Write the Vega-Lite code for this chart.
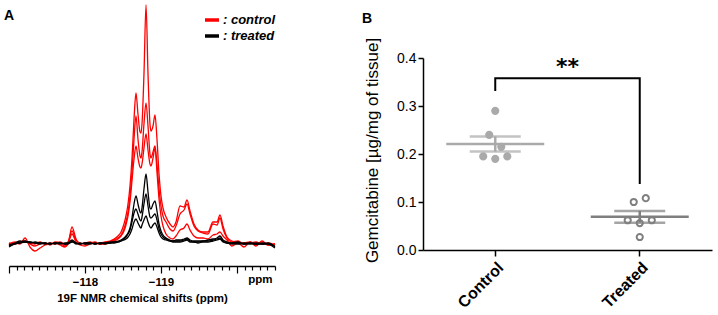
{
  "$schema": "https://vega.github.io/schema/vega-lite/v6.json",
  "padding": {"left": 4, "top": 2, "right": 2, "bottom": 0},
  "config": {"font": "Liberation Sans", "view": {"stroke": null}, "axis": {"grid": false}},
  "spacing": 84,
  "resolve": {"scale": {"color": "independent"}, "legend": {"color": "independent"}},
  "hconcat": [
    {
      "width": 266,
      "height": 208,
      "title": {"text": "A", "anchor": "start", "frame": "group", "fontSize": 14, "fontWeight": "bold", "offset": 0, "dx": -5, "dy": 21},
      "data": {"values": [
        {"p":-117.000,"r1":1,"r2":0,"r3":-1,"b1":-1,"b2":-2,"b3":-3},
        {"p":-117.079,"r1":0,"r2":2,"r3":1,"b1":1,"b2":0,"b3":0},
        {"p":-117.145,"r1":2,"r2":1,"r3":0,"b1":3,"b2":2,"b3":1},
        {"p":-117.211,"r1":3,"r2":2,"r3":6,"b1":2,"b2":3,"b3":2},
        {"p":-117.276,"r1":0,"r2":1,"r3":-3,"b1":2,"b2":1,"b3":2},
        {"p":-117.342,"r1":-2,"r2":0,"r3":-7,"b1":1,"b2":2,"b3":1},
        {"p":-117.408,"r1":0,"r2":2,"r3":-4,"b1":0,"b2":1,"b3":1},
        {"p":-117.474,"r1":1,"r2":0,"r3":-1,"b1":1,"b2":0,"b3":1},
        {"p":-117.539,"r1":-1,"r2":1,"r3":0,"b1":0,"b2":1,"b3":0},
        {"p":-117.605,"r1":2,"r2":0,"r3":1,"b1":1,"b2":0,"b3":1},
        {"p":-117.671,"r1":1,"r2":2,"r3":-1,"b1":0,"b2":1,"b3":1},
        {"p":-117.737,"r1":-2,"r2":0,"r3":-3,"b1":1,"b2":0,"b3":0},
        {"p":-117.776,"r1":0,"r2":2,"r3":0,"b1":1,"b2":1,"b3":0},
        {"p":-117.829,"r1":17,"r2":13,"r3":10,"b1":4,"b2":3,"b3":2},
        {"p":-117.882,"r1":5,"r2":4,"r3":2,"b1":1,"b2":0,"b3":1},
        {"p":-117.934,"r1":0,"r2":1,"r3":-1,"b1":0,"b2":1,"b3":0},
        {"p":-118.000,"r1":1,"r2":0,"r3":-2,"b1":1,"b2":0,"b3":1},
        {"p":-118.066,"r1":2,"r2":1,"r3":0,"b1":1,"b2":0,"b3":1},
        {"p":-118.132,"r1":0,"r2":2,"r3":1,"b1":0,"b2":1,"b3":0},
        {"p":-118.197,"r1":1,"r2":0,"r3":0,"b1":1,"b2":0,"b3":1},
        {"p":-118.263,"r1":2,"r2":1,"r3":0,"b1":1,"b2":1,"b3":0},
        {"p":-118.329,"r1":3,"r2":2,"r3":1,"b1":2,"b2":1,"b3":1},
        {"p":-118.382,"r1":5,"r2":4,"r3":3,"b1":2,"b2":2,"b3":1},
        {"p":-118.434,"r1":8,"r2":6,"r3":5,"b1":3,"b2":2,"b3":2},
        {"p":-118.474,"r1":12,"r2":9,"r3":8,"b1":4,"b2":3,"b3":3},
        {"p":-118.513,"r1":20,"r2":15,"r3":13,"b1":6,"b2":5,"b3":4},
        {"p":-118.539,"r1":28,"r2":22,"r3":19,"b1":8,"b2":7,"b3":5},
        {"p":-118.566,"r1":40,"r2":32,"r3":28,"b1":11,"b2":10,"b3":7},
        {"p":-118.592,"r1":58,"r2":48,"r3":42,"b1":16,"b2":14,"b3":10},
        {"p":-118.618,"r1":85,"r2":72,"r3":63,"b1":26,"b2":22,"b3":15},
        {"p":-118.645,"r1":125,"r2":105,"r3":85,"b1":40,"b2":31,"b3":22},
        {"p":-118.671,"r1":151,"r2":128,"r3":98,"b1":48,"b2":35,"b3":25},
        {"p":-118.697,"r1":130,"r2":105,"r3":86,"b1":40,"b2":30,"b3":21},
        {"p":-118.724,"r1":112,"r2":88,"r3":77,"b1":32,"b2":24,"b3":17},
        {"p":-118.737,"r1":111,"r2":86,"r3":76,"b1":31,"b2":23,"b3":16},
        {"p":-118.750,"r1":120,"r2":92,"r3":80,"b1":36,"b2":27,"b3":19},
        {"p":-118.776,"r1":170,"r2":120,"r3":96,"b1":55,"b2":40,"b3":24},
        {"p":-118.803,"r1":239,"r2":141,"r3":110,"b1":70,"b2":50,"b3":28},
        {"p":-118.829,"r1":170,"r2":118,"r3":94,"b1":52,"b2":38,"b3":22},
        {"p":-118.855,"r1":120,"r2":90,"r3":80,"b1":36,"b2":27,"b3":17},
        {"p":-118.868,"r1":113,"r2":86,"r3":78,"b1":35,"b2":26,"b3":16},
        {"p":-118.895,"r1":118,"r2":92,"r3":86,"b1":40,"b2":28,"b3":19},
        {"p":-118.921,"r1":129,"r2":98,"r3":96,"b1":43,"b2":30,"b3":21},
        {"p":-118.947,"r1":105,"r2":80,"r3":72,"b1":33,"b2":24,"b3":17},
        {"p":-118.974,"r1":70,"r2":55,"r3":45,"b1":20,"b2":15,"b3":11},
        {"p":-119.000,"r1":48,"r2":38,"r3":28,"b1":13,"b2":10,"b3":7},
        {"p":-119.026,"r1":36,"r2":28,"r3":18,"b1":9,"b2":7,"b3":5},
        {"p":-119.066,"r1":27,"r2":22,"r3":10,"b1":6,"b2":5,"b3":4},
        {"p":-119.118,"r1":20,"r2":15,"r3":6,"b1":4,"b2":3,"b3":3},
        {"p":-119.158,"r1":17,"r2":13,"r3":5,"b1":3,"b2":3,"b3":2},
        {"p":-119.197,"r1":22,"r2":18,"r3":8,"b1":4,"b2":3,"b3":2},
        {"p":-119.250,"r1":38,"r2":30,"r3":14,"b1":4,"b2":3,"b3":2},
        {"p":-119.303,"r1":37,"r2":34,"r3":16,"b1":5,"b2":4,"b3":3},
        {"p":-119.342,"r1":44,"r2":40,"r3":20,"b1":6,"b2":5,"b3":4},
        {"p":-119.382,"r1":33,"r2":30,"r3":14,"b1":4,"b2":3,"b3":2},
        {"p":-119.434,"r1":20,"r2":18,"r3":8,"b1":3,"b2":2,"b3":2},
        {"p":-119.487,"r1":14,"r2":13,"r3":6,"b1":3,"b2":2,"b3":1},
        {"p":-119.553,"r1":12,"r2":11,"r3":6,"b1":3,"b2":3,"b3":2},
        {"p":-119.618,"r1":12,"r2":10,"r3":5,"b1":4,"b2":3,"b3":2},
        {"p":-119.684,"r1":22,"r2":20,"r3":9,"b1":5,"b2":4,"b3":3},
        {"p":-119.737,"r1":22,"r2":19,"r3":10,"b1":6,"b2":5,"b3":4},
        {"p":-119.776,"r1":29,"r2":26,"r3":12,"b1":8,"b2":6,"b3":5},
        {"p":-119.816,"r1":18,"r2":15,"r3":8,"b1":4,"b2":3,"b3":2},
        {"p":-119.868,"r1":7,"r2":6,"r3":4,"b1":2,"b2":1,"b3":1},
        {"p":-119.934,"r1":3,"r2":2,"r3":-2,"b1":1,"b2":1,"b3":0},
        {"p":-120.013,"r1":2,"r2":3,"r3":1,"b1":2,"b2":0,"b3":1},
        {"p":-120.092,"r1":1,"r2":0,"r3":-3,"b1":0,"b2":1,"b3":0},
        {"p":-120.171,"r1":2,"r2":1,"r3":2,"b1":1,"b2":0,"b3":1},
        {"p":-120.250,"r1":0,"r2":2,"r3":-2,"b1":0,"b2":1,"b3":0},
        {"p":-120.329,"r1":1,"r2":0,"r3":3,"b1":1,"b2":0,"b3":0},
        {"p":-120.408,"r1":-1,"r2":1,"r3":-1,"b1":0,"b2":1,"b3":0},
        {"p":-120.500,"r1":0,"r2":-1,"r3":0,"b1":-4,"b2":-3,"b3":-2}
      ]},
      "transform": [
        {"fold": ["r1", "r2", "r3", "b1", "b2", "b3"], "as": ["curve", "intensity"]},
        {"lookup": "curve", "from": {"data": {"values": [
          {"curve": "r1", "sample": ": control"},
          {"curve": "r2", "sample": ": control"},
          {"curve": "r3", "sample": ": control"},
          {"curve": "b1", "sample": ": treated"},
          {"curve": "b2", "sample": ": treated"},
          {"curve": "b3", "sample": ": treated"}
        ]}, "key": "curve", "fields": ["sample"]}}
      ],
      "mark": {"type": "line", "interpolate": "monotone", "strokeWidth": 1.3},
      "encoding": {
        "x": {
          "field": "p", "type": "quantitative",
          "scale": {"domain": [-117, -120.5], "nice": false, "zero": false},
          "axis": {
            "values": [-117,-117.1,-117.2,-117.3,-117.4,-117.5,-117.6,-117.7,-117.8,-117.9,-118,-118.1,-118.2,-118.3,-118.4,-118.5,-118.6,-118.7,-118.8,-118.9,-119,-119.1,-119.2,-119.3,-119.4,-119.5,-119.6,-119.7,-119.8,-119.9,-120,-120.1,-120.2,-120.3,-120.4,-120.5],
            "labelExpr": "abs(datum.value + 118) < 0.01 ? '\u2212118' : abs(datum.value + 119) < 0.01 ? '\u2212119' : abs(datum.value + 120.3) < 0.01 ? 'ppm' : ''",
            "tickSize": {"condition": {"test": "abs(datum.value - round(datum.value)) < 0.01", "value": 7}, "value": 4},
            "labelFontSize": 11.5, "labelFontWeight": "bold", "labelColor": "black",
            "labelOverlap": false, "labelFlush": false, "labelPadding": 3,
            "title": "19F NMR chemical shifts (ppm)", "titleFontSize": 11.5, "titleFontWeight": "bold", "titleColor": "black", "titlePadding": 5,
            "domainColor": "black", "domainWidth": 1.5, "tickColor": "black", "tickWidth": 1.2
          }
        },
        "y": {"field": "intensity", "type": "quantitative", "scale": {"domain": [-22, 186], "nice": false, "zero": false}, "axis": null},
        "color": {
          "field": "sample", "type": "nominal",
          "scale": {"domain": [": control", ": treated"], "range": ["#ff0000", "#000000"]},
          "legend": {"orient": "none", "legendX": 194, "legendY": -47, "title": null, "symbolType": "stroke", "symbolStrokeWidth": 3.5, "symbolSize": 196, "labelFontSize": 13, "labelFontWeight": "bold", "labelFontStyle": "italic", "labelColor": "black", "labelOffset": 2, "rowPadding": -2, "padding": 0}
        },
        "detail": {"field": "curve"}
      }
    },
    {
      "width": 289,
      "height": 192,
      "title": {"text": "B", "anchor": "start", "frame": "group", "fontSize": 14, "fontWeight": "bold", "offset": 11, "dx": -61},
      "layer": [
        {
          "data": {"values": [
            {"group": "Control", "value": 0.29, "slot": 0},
            {"group": "Control", "value": 0.24, "slot": -1},
            {"group": "Control", "value": 0.215, "slot": 1},
            {"group": "Control", "value": 0.195, "slot": -2},
            {"group": "Control", "value": 0.19, "slot": 0},
            {"group": "Control", "value": 0.195, "slot": 2},
            {"group": "Treated", "value": 0.1, "slot": -1},
            {"group": "Treated", "value": 0.108, "slot": 1},
            {"group": "Treated", "value": 0.062, "slot": -2},
            {"group": "Treated", "value": 0.056, "slot": 0},
            {"group": "Treated", "value": 0.062, "slot": 2},
            {"group": "Treated", "value": 0.027, "slot": 0}
          ]},
          "layer": [
            {
              "mark": {"type": "tick", "thickness": 2.5, "size": 98},
              "encoding": {
                "x": {"field": "group", "type": "nominal", "scale": {"type": "band", "domain": ["Control", "Treated"], "paddingInner": 0, "paddingOuter": 0},
                  "axis": {"title": null, "labelAngle": -45, "labelFontSize": 16, "labelFontWeight": "bold", "labelColor": "black", "domainColor": "black", "domainWidth": 1.5, "tickColor": "black", "tickWidth": 1.5, "tickSize": 6, "labelPadding": 3}},
                "y": {"aggregate": "mean", "field": "value", "type": "quantitative", "title": "Gemcitabine [\u00b5g/mg of tissue]", "scale": {"domain": [0, 0.4], "nice": false},
                  "axis": {"values": [0, 0.1, 0.2, 0.3, 0.4], "format": ".1f", "titleFontSize": 17, "titleFontWeight": "normal", "titleColor": "black", "titlePadding": 15, "titleY": 92, "labelFontSize": 14, "labelColor": "black", "domainColor": "black", "domainWidth": 1.5, "tickColor": "black", "tickWidth": 1.5, "tickSize": 5, "labelPadding": 2}},
                "color": {"field": "group", "type": "nominal", "scale": {"domain": ["Control", "Treated"], "range": ["#aaaaaa", "#7f7f7f"]}, "legend": null}
              }
            },
            {
              "mark": {"type": "errorbar", "extent": "stderr", "ticks": {"size": 51, "thickness": 2.5}, "rule": {"strokeWidth": 2.5}},
              "encoding": {
                "x": {"field": "group", "type": "nominal"},
                "y": {"field": "value", "type": "quantitative", "title": "Gemcitabine [\u00b5g/mg of tissue]"},
                "color": {"field": "group", "type": "nominal", "legend": null}
              }
            },
            {
              "mark": {"type": "circle", "size": 38, "strokeWidth": 2, "opacity": 1},
              "encoding": {
                "x": {"field": "group", "type": "nominal"},
                "xOffset": {"field": "slot", "type": "quantitative", "scale": {"domain": [-12, 12]}},
                "y": {"field": "value", "type": "quantitative", "title": "Gemcitabine [\u00b5g/mg of tissue]"},
                "fill": {"field": "group", "type": "nominal", "scale": {"domain": ["Control", "Treated"], "range": ["#aaaaaa", "transparent"]}, "legend": null},
                "stroke": {"field": "group", "type": "nominal", "scale": {"domain": ["Control", "Treated"], "range": ["#aaaaaa", "#7f7f7f"]}, "legend": null}
              }
            }
          ]
        },
        {
          "data": {"values": [
            {"group": "Control", "v": 0.331, "o": 1},
            {"group": "Control", "v": 0.358, "o": 2},
            {"group": "Treated", "v": 0.358, "o": 3},
            {"group": "Treated", "v": 0.1375, "o": 4}
          ]},
          "mark": {"type": "line", "color": "black", "strokeWidth": 2},
          "encoding": {
            "x": {"field": "group", "type": "nominal"},
            "y": {"field": "v", "type": "quantitative", "title": "Gemcitabine [\u00b5g/mg of tissue]"},
            "order": {"field": "o"}
          }
        },
        {
          "data": {"values": [{"group": "Control", "slot": 12, "v": 0.366, "label": "**"}]},
          "mark": {"type": "text", "font": "DejaVu Sans", "fontWeight": "bold", "fontSize": 22, "baseline": "alphabetic", "color": "black"},
          "encoding": {
            "x": {"field": "group", "type": "nominal"},
            "xOffset": {"field": "slot", "type": "quantitative"},
            "y": {"field": "v", "type": "quantitative", "title": "Gemcitabine [\u00b5g/mg of tissue]"},
            "text": {"field": "label"}
          }
        }
      ]
    }
  ]
}
